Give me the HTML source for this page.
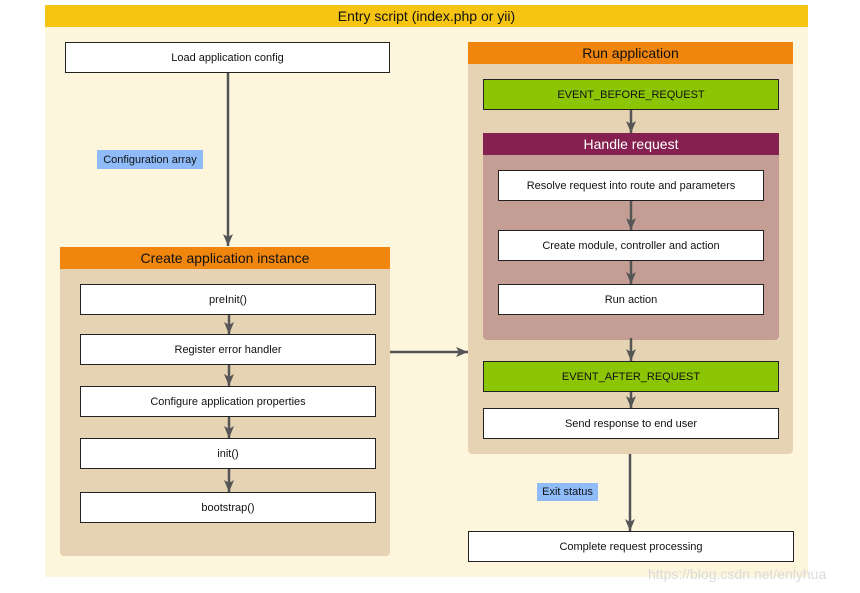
<!DOCTYPE html>
<html><head><meta charset="utf-8"><style>
*{margin:0;padding:0;box-sizing:border-box}
body{width:860px;height:593px;background:#fff;position:relative;overflow:hidden;font-family:"Liberation Sans",Arial,sans-serif;color:#111}
div{position:absolute}
.b{background:#fff;border:1px solid #222;font-size:11px;display:flex;align-items:center;justify-content:center}
.g{background:#8cc504}
.h{font-size:14px;display:flex;align-items:center;justify-content:center}
.lbl{background:#8fbcf8;font-size:11px;display:flex;align-items:center;justify-content:center}
</style></head><body>
<div style="left:45px;top:5px;width:763px;height:572px;background:#fdf5dc"></div>
<div class="h" style="left:45px;top:5px;width:763px;height:22px;background:#f6c413">Entry script (index.php or yii)</div>

<div class="b" style="left:65px;top:42px;width:325px;height:31px">Load application config</div>
<div class="lbl" style="left:97px;top:150px;width:106px;height:19px">Configuration array</div>

<div style="left:60px;top:247px;width:330px;height:309px;background:#e6d3b3;border-radius:4px"></div>
<div class="h" style="left:60px;top:247px;width:330px;height:22px;background:#f0860e">Create application instance</div>
<div class="b" style="left:80px;top:284px;width:296px;height:31px">preInit()</div>
<div class="b" style="left:80px;top:334px;width:296px;height:31px">Register error handler</div>
<div class="b" style="left:80px;top:386px;width:296px;height:31px">Configure application properties</div>
<div class="b" style="left:80px;top:438px;width:296px;height:31px">init()</div>
<div class="b" style="left:80px;top:492px;width:296px;height:31px">bootstrap()</div>

<div style="left:468px;top:42px;width:325px;height:412px;background:#e6d3b3;border-radius:4px"></div>
<div class="h" style="left:468px;top:42px;width:325px;height:22px;background:#f0860e">Run application</div>
<div class="b g" style="left:483px;top:79px;width:296px;height:31px">EVENT_BEFORE_REQUEST</div>
<div style="left:483px;top:133px;width:296px;height:207px;background:#c49e95;border-radius:4px"></div>
<div class="h" style="left:483px;top:133px;width:296px;height:22px;background:#852050;color:#fff">Handle request</div>
<div class="b" style="left:498px;top:170px;width:266px;height:31px">Resolve request into route and parameters</div>
<div class="b" style="left:498px;top:230px;width:266px;height:31px">Create module, controller and action</div>
<div class="b" style="left:498px;top:284px;width:266px;height:31px">Run action</div>
<div class="b g" style="left:483px;top:361px;width:296px;height:31px">EVENT_AFTER_REQUEST</div>
<div class="b" style="left:483px;top:408px;width:296px;height:31px">Send response to end user</div>

<div class="lbl" style="left:537px;top:483px;width:61px;height:18px">Exit status</div>
<div class="b" style="left:468px;top:531px;width:326px;height:31px">Complete request processing</div>

<div style="left:648px;top:566px;font-size:14px;color:#dadada">https://blog.csdn.net/enlyhua</div>

<svg width="860" height="593" style="position:absolute;left:0;top:0">
<defs><marker id="a" markerWidth="14" markerHeight="12" refX="12" refY="5" orient="auto" markerUnits="userSpaceOnUse"><path d="M0,0 L12,5 L0,10 L3,5z" fill="#555"/></marker></defs>
<g stroke="#555" stroke-width="2.5" marker-end="url(#a)">
<line x1="228" y1="73" x2="228" y2="246"/>
<line x1="229" y1="315" x2="229" y2="334"/>
<line x1="229" y1="365" x2="229" y2="386"/>
<line x1="229" y1="417" x2="229" y2="438"/>
<line x1="229" y1="469" x2="229" y2="492"/>
<line x1="390" y1="352" x2="468" y2="352"/>
<line x1="631" y1="110" x2="631" y2="133"/>
<line x1="631" y1="201" x2="631" y2="230"/>
<line x1="631" y1="261" x2="631" y2="284"/>
<line x1="631" y1="338" x2="631" y2="361"/>
<line x1="631" y1="392" x2="631" y2="408"/>
<line x1="630" y1="454" x2="630" y2="531"/>
</g></svg>
</body></html>
